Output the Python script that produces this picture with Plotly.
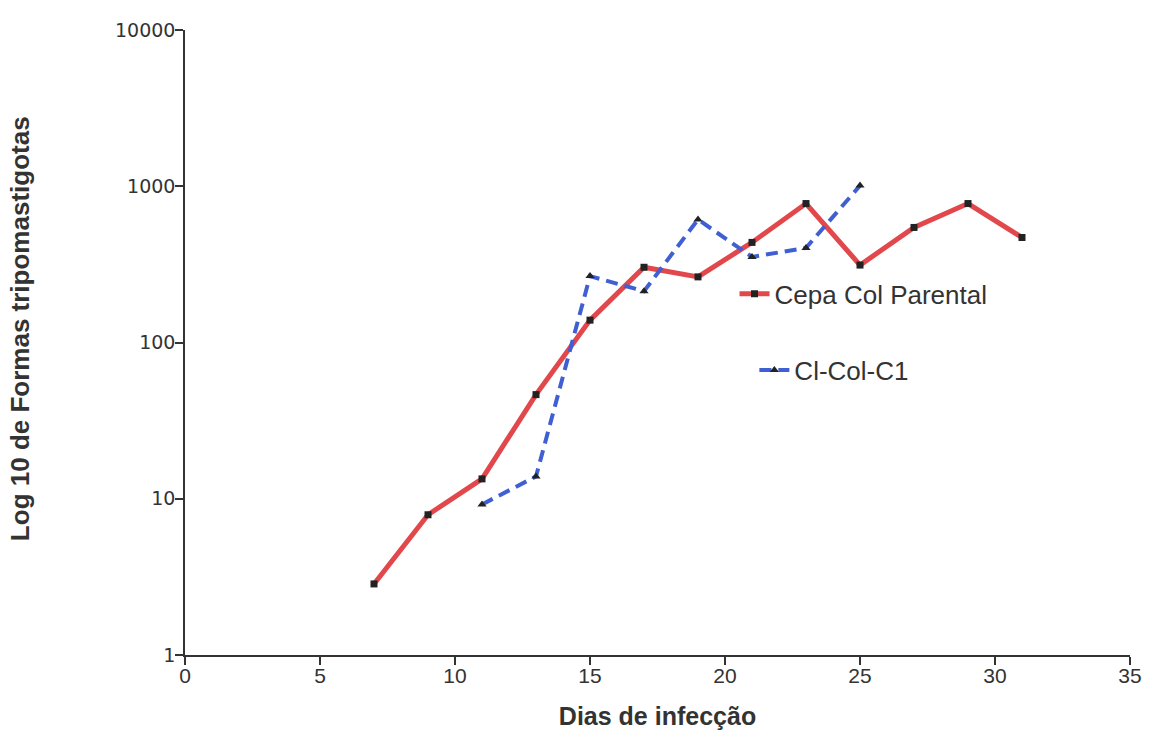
import plotly.graph_objects as go

# Data
dias_parental = [7, 9, 11, 13, 15, 17, 19, 21, 23, 25, 27, 29, 31]
formas_parental = [2.85, 7.9, 13.4, 46.4, 139, 303, 263, 437, 775, 313, 545, 775, 470]

dias_clone = [11, 13, 15, 17, 19, 21, 23, 25]
formas_clone = [9.2, 13.9, 266, 213, 613, 353, 403, 1010]

x_ticks = [0, 5, 10, 15, 20, 25, 30, 35]
y_ticks = [1, 10, 100, 1000, 10000]
y_tick_labels = ["1", "10", "100", "1000", "10000"]

TXT = "#333333"

fig = go.Figure()
fig.add_trace(go.Scatter(
    x=dias_parental, y=formas_parental, mode="lines+markers",
    name="Cepa Col Parental", showlegend=True,
    line=dict(color="#E2474C", width=5),
    marker=dict(symbol="square", size=7, color="#222222"),
    legend="legend",
))
fig.add_trace(go.Scatter(
    x=dias_clone, y=formas_clone, mode="lines+markers",
    name="Cl-Col-C1", showlegend=True,
    line=dict(color="#3F5FD2", width=4, dash="12px,7px"),
    marker=dict(symbol="triangle-up", size=8, color="#222222"),
    legend="legend2",
))

fig.update_layout(
    width=1154, height=739,
    showlegend=True,
    margin=dict(l=185, r=18, t=30, b=84),
    paper_bgcolor="white", plot_bgcolor="white",
    font=dict(family="Liberation Sans, Arial, sans-serif", color=TXT),
    legend=dict(x=0.5815, y=0.578, xanchor="left", yanchor="middle",
                font=dict(size=26, color=TXT), bgcolor="rgba(0,0,0,0)",
                visible=True),
    legend2=dict(x=0.6025, y=0.456, xanchor="left", yanchor="middle",
                 font=dict(size=26, color=TXT), bgcolor="rgba(0,0,0,0)",
                 visible=True),
    xaxis=dict(
        range=[0, 35], tickvals=x_ticks, ticks="outside", ticklen=8,
        tickcolor=TXT, tickwidth=1.5, showline=True, linecolor=TXT,
        linewidth=1.5, showgrid=False, zeroline=False,
        tickfont=dict(size=21, color=TXT), ticklabelstandoff=-7,
        title=dict(text="<b>Dias de infecção</b>", font=dict(size=25, color=TXT),
                   standoff=22),
    ),
    yaxis=dict(
        type="log", range=[0, 4], tickvals=y_ticks, ticktext=y_tick_labels,
        ticks="outside", ticklen=8, tickcolor=TXT, tickwidth=1.5,
        showline=True, linecolor=TXT, linewidth=1.5, showgrid=False,
        zeroline=False, ticklabelstandoff=-4,
        tickfont=dict(size=19, color=TXT, family="DejaVu Sans"),
    ),
    annotations=[dict(
        text="<b>Log 10 de Formas tripomastigotas</b>",
        xref="paper", yref="paper", x=-0.175, y=0.5 + 14 / 625,
        xanchor="center", yanchor="middle", textangle=-90, showarrow=False,
        font=dict(size=26, color=TXT),
    )],
)

fig.write_html("out.html")
